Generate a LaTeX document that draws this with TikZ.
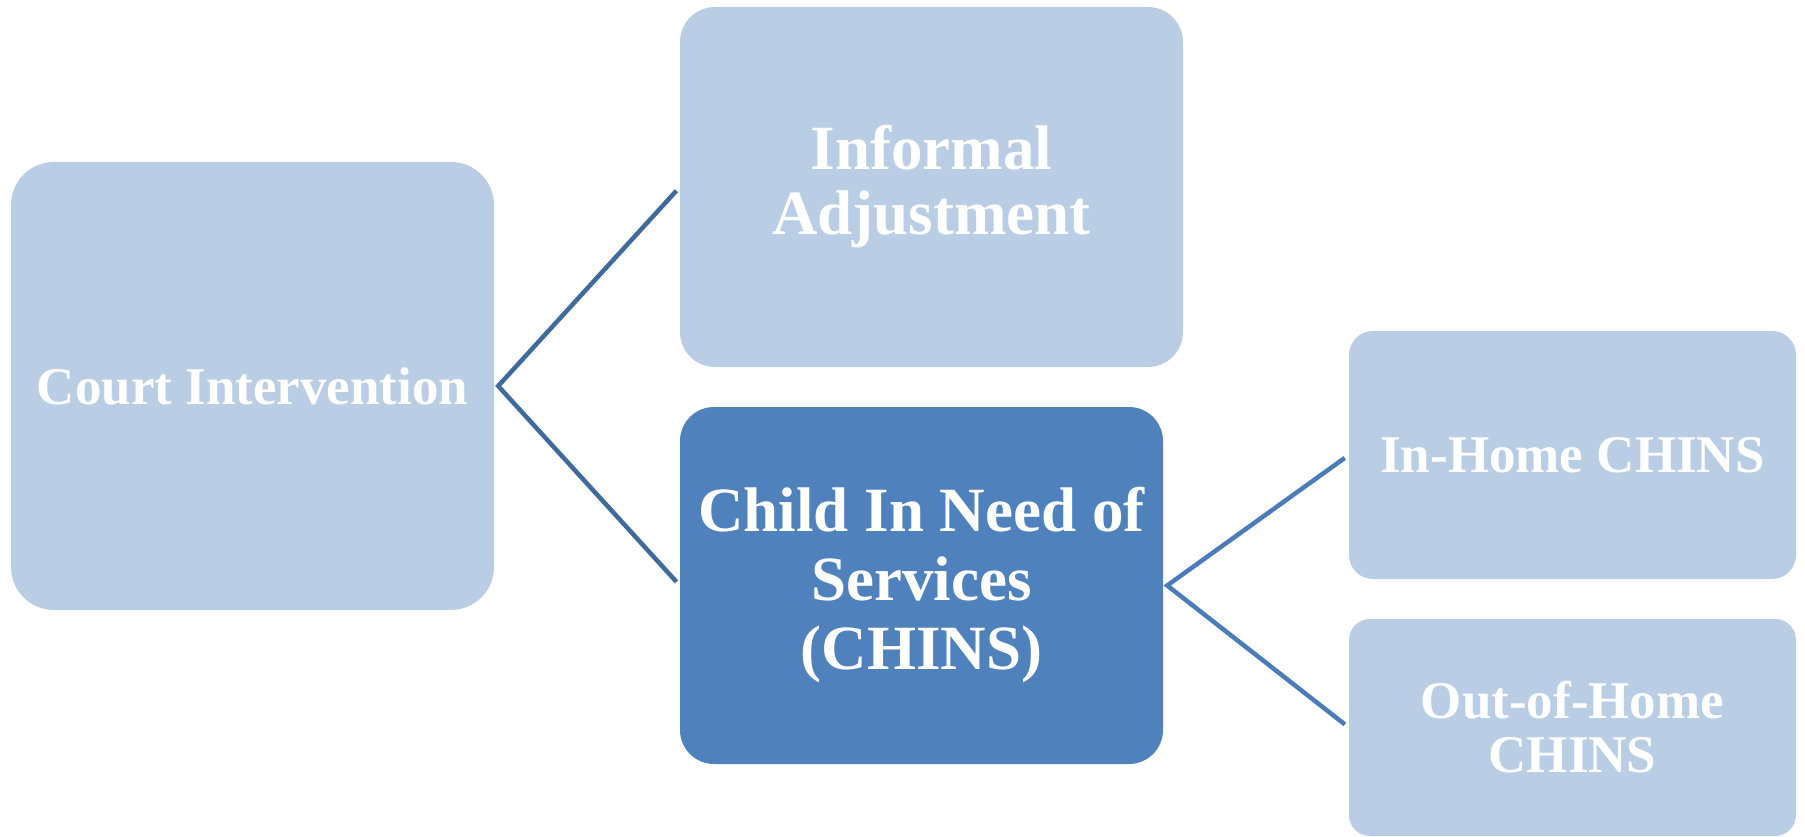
\documentclass[tikz,border=0pt]{standalone}
\usepackage{fontspec}
\setmainfont{Liberation Serif}
\definecolor{lightbox}{HTML}{B9CDE5}
\definecolor{darkbox}{HTML}{4F81BD}
\definecolor{connA}{HTML}{3F6A9C}
\definecolor{connB}{HTML}{4A7CB9}
\tikzset{
  boxbase/.style={rectangle, inner sep=0pt, text=white, align=center, font=\bfseries},
  lightnode/.style={boxbase, fill=lightbox},
  darknode/.style={boxbase, fill=darkbox},
  connleft/.style={draw=connA, line width=4.5pt, line join=miter, shorten <=5pt, shorten >=5pt},
  connright/.style={draw=connB, line width=4.5pt, line join=miter, shorten <=5pt, shorten >=5pt}
}
\begin{document}
\begin{tikzpicture}[x=1pt,y=-1pt]
\useasboundingbox (0,0) rectangle (1805,837);
\node[lightnode, minimum width=483pt, minimum height=448pt, rounded corners=43pt,
  font=\bfseries\fontsize{53}{56}\selectfont] (court) at (252.5,386) {Court Intervention};
\node[lightnode, minimum width=503pt, minimum height=360pt, rounded corners=35pt,
  font=\bfseries\fontsize{63}{65}\selectfont] (info) at (931.5,187) {Informal\\Adjustment};
\node[darknode, minimum width=483pt, minimum height=357pt, rounded corners=34pt,
  font=\bfseries\fontsize{63}{69}\selectfont] (chins) at (921.5,585.5) {Child In Need of\\Services\\(CHINS)};
\node[lightnode, minimum width=447pt, minimum height=248pt, rounded corners=24pt,
  font=\bfseries\fontsize{53}{56}\selectfont] (inhome) at (1572.5,455) {In-Home CHINS};
\node[lightnode, minimum width=447pt, minimum height=217pt, rounded corners=21pt,
  font=\bfseries\fontsize{53}{54}\selectfont] (outhome) at (1572.5,727.5) {Out-of-Home\\CHINS};
\coordinate (cv) at ([xshift=4pt]court.east);
\coordinate (hv) at ([xshift=4pt]chins.east);
\draw[connleft] (info.west) -- (cv) -- (chins.west);
\draw[connright] (inhome.west) -- (hv) -- (outhome.west);
\end{tikzpicture}
\end{document}
